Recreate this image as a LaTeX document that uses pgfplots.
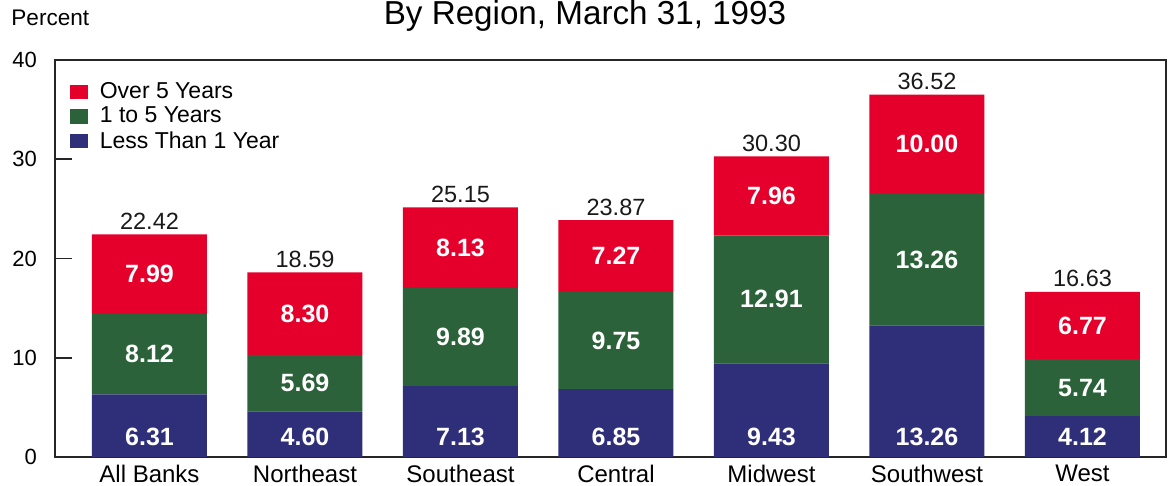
\documentclass[border=0pt]{standalone}
\usepackage{pgfplots}
\pgfplotsset{compat=1.18}
\usepackage{fontspec}
\setmainfont{Liberation Sans}
\definecolor{cred}{HTML}{E5002B}
\definecolor{cgreen}{HTML}{2B6239}
\definecolor{cblue}{HTML}{2E2F78}
\begin{document}
\begin{tikzpicture}
\pgfplotsset{
  common/.style={
    scale only axis, width=555.5pt, height=198.5pt,
    xmin=-0.6077, xmax=6.537, ymin=0, ymax=40,
  }
}
\begin{axis}[common,
  ybar stacked, bar width=57.5pt,
  axis line style={line width=1.2pt, black!85},
  ytick={0,10,20,30,40}, tick align=inside, ytick pos=left,
  major tick length=8.5pt, y tick style={line width=0.8pt, black!85},
  yticklabel style={font=\fontsize{11pt}{12pt}\selectfont, xshift=-5.5pt},
  /pgf/number format/assume math mode=true,
  xtick=data, xticklabels={All Banks,Northeast,Southeast,Central,Midwest,Southwest,West},
  x tick style={draw=none},
  xticklabel style={font=\fontsize{12pt}{13pt}\selectfont, yshift=-0.5pt},
  legend style={at={(0.013,0.955)}, anchor=north west, draw=none, fill=none,
    font=\fontsize{11.5pt}{12.5pt}\selectfont, row sep=-1.2pt, inner sep=0pt},
  legend cell align=left, reverse legend,
  legend image code/.code={\fill[#1] (0pt,-3.6pt) rectangle (9pt,3.6pt); \path (13pt,0pt);},
]
\addplot[fill=cblue, draw=none] coordinates {(0,6.31) (1,4.60) (2,7.13) (3,6.85) (4,9.43) (5,13.26) (6,4.12)};
\addplot[fill=cgreen, draw=none] coordinates {(0,8.12) (1,5.69) (2,9.89) (3,9.75) (4,12.91) (5,13.26) (6,5.74)};
\addplot[fill=cred, draw=none] coordinates {(0,7.99) (1,8.30) (2,8.13) (3,7.27) (4,7.96) (5,10.00) (6,6.77)};
\legend{Less Than 1 Year, 1 to 5 Years, Over 5 Years}
\end{axis}
\begin{axis}[common, hide axis]
\addplot[only marks, mark=*, mark size=0pt, mark options={draw=none,fill=none},
  point meta=explicit symbolic, nodes near coords,
  every node near coord/.style={anchor=center, text=white, inner sep=0pt,
    font=\fontsize{12.5pt}{13pt}\selectfont\bfseries}]
  table[meta=label] {
x y label
0 2.0 6.31
1 2.0 4.60
2 2.0 7.13
3 2.0 6.85
4 2.0 9.43
5 2.0 13.26
6 2.0 4.12
0 10.37 8.12
1 7.445 5.69
2 12.075 9.89
3 11.725 9.75
4 15.885 12.91
5 19.89 13.26
6 6.99 5.74
0 18.425 7.99
1 14.44 8.30
2 21.085 8.13
3 20.235 7.27
4 26.32 7.96
5 31.52 10.00
6 13.245 6.77
};
\addplot[only marks, mark=*, mark size=0pt, mark options={draw=none,fill=none},
  point meta=explicit symbolic, nodes near coords,
  every node near coord/.style={anchor=base, yshift=2.5pt, text=black!90, inner sep=0pt,
    font=\fontsize{11.75pt}{13pt}\selectfont}]
  table[meta=label] {
x y label
0 22.42 22.42
1 18.59 18.59
2 25.15 25.15
3 23.87 23.87
4 30.30 30.30
5 36.52 36.52
6 16.63 16.63
};
\end{axis}
\node[anchor=base, font=\fontsize{16.6pt}{18pt}\selectfont] at (265pt,216pt) {By Region, March 31, 1993};
\node[anchor=base west, inner sep=0pt, font=\fontsize{11.3pt}{12pt}\selectfont] at (-22pt,215.5pt) {Percent};
\pgfresetboundingbox
\path (-27.5pt,-14.5pt) rectangle (557pt,228.5pt);
\end{tikzpicture}
\end{document}
